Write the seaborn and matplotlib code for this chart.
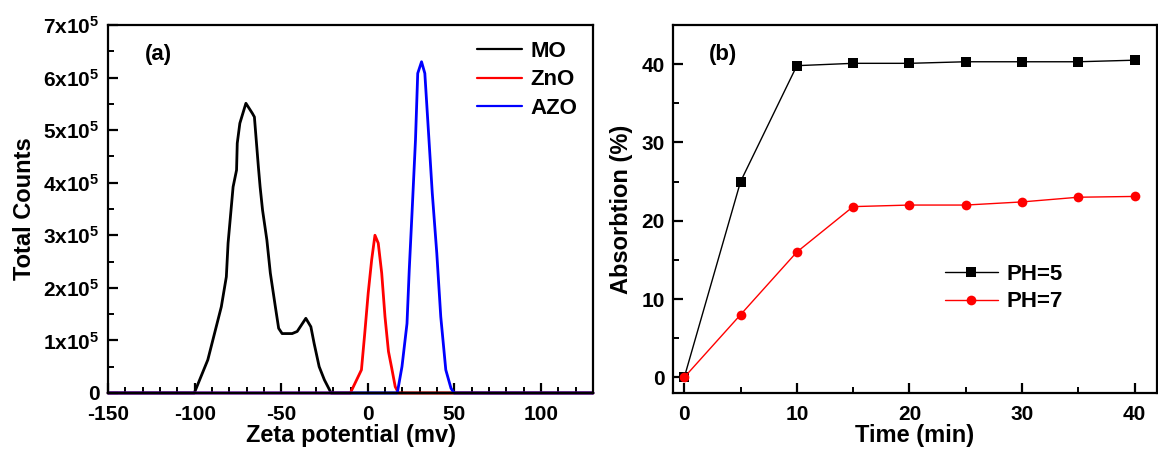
import numpy as np
import pandas as pd
import matplotlib
matplotlib.use("Agg")
import matplotlib.pyplot as plt
from matplotlib.ticker import MultipleLocator
import seaborn as sns

sns.set_theme(style="ticks")
plt.rcParams["font.family"] = ["Liberation Sans", "DejaVu Sans"]
plt.rcParams["font.weight"] = "bold"
plt.rcParams["axes.labelweight"] = "bold"
plt.rcParams["text.color"] = "black"
plt.rcParams["axes.labelcolor"] = "black"
plt.rcParams["xtick.color"] = "black"
plt.rcParams["ytick.color"] = "black"
plt.rcParams["mathtext.fontset"] = "custom"
plt.rcParams["mathtext.rm"] = "Liberation Sans:bold"
plt.rcParams["mathtext.it"] = "Liberation Sans:bold"
plt.rcParams["mathtext.bf"] = "Liberation Sans:bold"

# ---- (a) zeta potential distributions ----
mo_zeta = [-150, -100.2, -92.4, -84.6, -81.7, -80.7, -77.8, -75.8, -75.4, -73.9, -70.4,
           -66.7, -65.5, -63.2, -62.2, -60.8, -58.3, -56.3, -53.4, -51.5, -49.5, -43.7,
           -40.8, -35.8, -32.9, -31.0, -28.1, -25.1, -21.2, 130]
mo_counts = [0, 0, 0.63e5, 1.64e5, 2.21e5, 2.85e5, 3.92e5, 4.24e5, 4.75e5, 5.13e5, 5.51e5,
             5.32e5, 5.25e5, 4.30e5, 3.92e5, 3.48e5, 2.91e5, 2.28e5, 1.64e5, 1.23e5, 1.13e5,
             1.13e5, 1.17e5, 1.42e5, 1.26e5, 0.94e5, 0.50e5, 0.25e5, 0, 0]

zno_zeta = [-150, -10.1, -3.7, -1.8, 0.2, 2.2, 4.1, 6.0, 8.0, 9.9, 11.9, 13.8, 15.8, 17.7, 130]
zno_counts = [0, 0, 0.44e5, 1.13e5, 1.90e5, 2.53e5, 3.00e5, 2.85e5, 2.28e5, 1.45e5,
              0.79e5, 0.47e5, 0.12e5, 0, 0]

azo_zeta = [-150, 17.0, 19.7, 22.6, 23.9, 25.5, 27.5, 28.8, 31.0, 32.9, 35.3, 37.2, 39.8,
            42.1, 45.0, 48.0, 49.8, 130]
azo_counts = [0, 0, 0.50e5, 1.32e5, 2.34e5, 3.42e5, 4.81e5, 6.08e5, 6.30e5, 6.08e5,
              4.81e5, 3.80e5, 2.66e5, 1.45e5, 0.44e5, 0.09e5, 0, 0]

samples = ["MO", "ZnO", "AZO"]
sample_colors = ["#000000", "#ff0000", "#0000ff"]

count_ticks = [0, 1e5, 2e5, 3e5, 4e5, 5e5, 6e5, 7e5]
count_labels = ["0"] + [rf"${int(v / 1e5)}\mathrm{{x}}10^{{5}}$" for v in count_ticks[1:]]
zeta_ticks = [-150, -100, -50, 0, 50, 100]

# ---- (b) absorption versus time ----
time_min = [0, 5, 10, 15, 20, 25, 30, 35, 40]
absorb_ph5 = [0, 25.0, 39.8, 40.1, 40.1, 40.3, 40.3, 40.3, 40.5]
absorb_ph7 = [0, 8.0, 16.0, 21.8, 22.0, 22.0, 22.4, 23.0, 23.1]
ph_labels = ["PH=5", "PH=7"]
ph_colors = ["#000000", "#ff0000"]
time_ticks = [0, 10, 20, 30, 40]
absorb_ticks = [0, 10, 20, 30, 40]

zeta_df = pd.concat([
    pd.DataFrame({"zeta": z, "counts": c, "sample": s})
    for z, c, s in zip([mo_zeta, zno_zeta, azo_zeta],
                       [mo_counts, zno_counts, azo_counts], samples)
], ignore_index=True)

abs_df = pd.concat([
    pd.DataFrame({"time": time_min, "absorption": a, "ph": p})
    for a, p in zip([absorb_ph5, absorb_ph7], ph_labels)
], ignore_index=True)

fig = plt.figure(figsize=(11.58, 4.53), dpi=100)
ax1 = fig.add_axes([0.0933, 0.1325, 0.4188, 0.8124])
ax2 = fig.add_axes([0.5812, 0.1325, 0.4180, 0.8124])

sns.lineplot(data=zeta_df, x="zeta", y="counts", hue="sample", hue_order=samples,
             palette=sample_colors, sort=False, estimator=None, linewidth=2.0,
             ax=ax1, clip_on=False)

sns.lineplot(data=abs_df, x="time", y="absorption", hue="ph", hue_order=ph_labels,
             style="ph", style_order=ph_labels, palette=ph_colors,
             markers=["s", "o"], dashes=False, markersize=7, markeredgewidth=0,
             linewidth=1.0, ax=ax2, clip_on=False)

for ax in (ax1, ax2):
    for sp in ax.spines.values():
        sp.set_linewidth(1.6)
        sp.set_color("black")
        sp.set_visible(True)
    ax.tick_params(which="major", direction="in", length=7, width=1.6,
                   labelsize=15, pad=6, colors="black")
    ax.tick_params(axis="x", which="major", pad=9)
    ax.tick_params(which="minor", direction="in", length=4, width=1.4, colors="black")
    ax.tick_params(top=False, right=False, which="both")

ax1.set_xlim(-150, 130)
ax1.set_ylim(0, 7e5)
ax1.set_xticks(zeta_ticks)
ax1.set_xticklabels([str(t) for t in zeta_ticks], fontweight="bold")
ax1.set_yticks(count_ticks)
ax1.set_yticklabels(count_labels, fontweight="bold")
ax1.xaxis.set_minor_locator(MultipleLocator(10))
ax1.yaxis.set_minor_locator(MultipleLocator(0.5e5))
ax1.set_xlabel("Zeta potential (mv)", fontsize=17, fontweight="bold", labelpad=0)
ax1.set_ylabel("Total Counts", fontsize=17, fontweight="bold", labelpad=5)
ax1.text(0.075, 0.905, "(a)", transform=ax1.transAxes, fontsize=16, fontweight="bold")
leg1 = ax1.legend(loc="upper right", frameon=False, fontsize=16, handlelength=2.0,
                  handletextpad=0.4, labelspacing=0.35, borderaxespad=0.3)
for line in leg1.get_lines():
    line.set_linewidth(1.6)

ax2.set_xlim(-1, 42)
ax2.set_ylim(-2, 45)
ax2.set_xticks(time_ticks)
ax2.set_xticklabels([str(t) for t in time_ticks], fontweight="bold")
ax2.set_yticks(absorb_ticks)
ax2.set_yticklabels([str(t) for t in absorb_ticks], fontweight="bold")
ax2.xaxis.set_minor_locator(MultipleLocator(5))
ax2.yaxis.set_minor_locator(MultipleLocator(5))
ax2.set_xlabel("Time (min)", fontsize=17, fontweight="bold", labelpad=0)
ax2.set_ylabel("Absorbtion (%)", fontsize=17, fontweight="bold", labelpad=6)
ax2.text(0.075, 0.905, "(b)", transform=ax2.transAxes, fontsize=16, fontweight="bold")
leg2 = ax2.legend(loc="center left", bbox_to_anchor=(0.52, 0.285), frameon=False,
                  fontsize=16, handlelength=2.4, handletextpad=0.4, labelspacing=0.3)

fig.savefig("out.png", dpi=100)
